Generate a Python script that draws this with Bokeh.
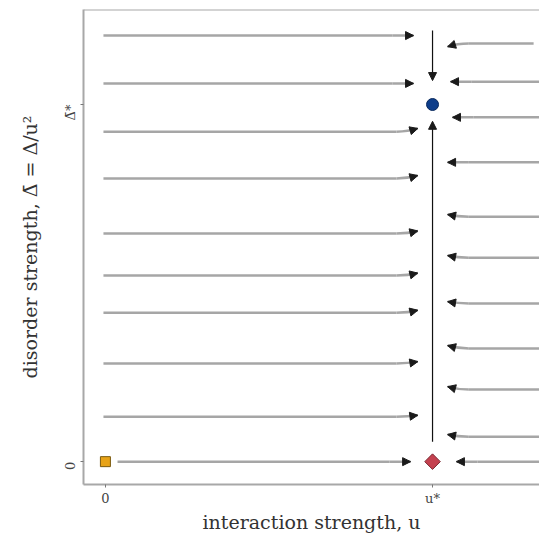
import numpy as np
from bokeh.plotting import figure
from bokeh.models import Range1d, Span, Arrow, NormalHead, FixedTicker
from bokeh.embed import file_html
from bokeh.resources import INLINE

# ---- data (u in units of u*, Delta-bar in units of Delta*) ----
u_star = 1.0
d_star = 1.0

# flow lines coming from the left (u < u*)
left_level = [1.193, 1.059, 0.924, 0.793, 0.639, 0.521, 0.417, 0.275, 0.126]
left_end_level = [1.193, 1.059, 0.933, 0.801, 0.646, 0.528, 0.424, 0.280, 0.130]
left_start = [-0.006] * 9
left_tip = [0.942, 0.942, 0.955, 0.955, 0.955, 0.955, 0.955, 0.955, 0.955]

# flow lines coming from the right (u > u*)
right_level = [1.171, 1.064, 0.964, 0.838, 0.686, 0.571, 0.443, 0.317, 0.202, 0.070]
right_end_level = [1.162, 1.064, 0.964, 0.838, 0.692, 0.577, 0.448, 0.325, 0.210, 0.076]
right_start = [1.309, 1.36, 1.36, 1.36, 1.36, 1.36, 1.36, 1.36, 1.36, 1.36]
right_tip = [1.046, 1.055, 1.061, 1.046, 1.046, 1.046, 1.046, 1.046, 1.046, 1.046]

# flows on the clean axis (Delta-bar = 0)
clean_left = [0.037, 0.933]
clean_right = [1.36, 1.073]

# flows on the critical line u = u*
crit_down = [1.207, 1.067]
crit_up = [0.056, 0.953]

# fixed points
fp_u = [0.0, u_star, u_star]
fp_d = [0.0, 0.0, d_star]

x_ticks = [0.0, u_star]
x_tick_labels = ["0", "u*"]
y_ticks = [0.0, d_star]
y_tick_labels = ["0", "Δ̄*"]

FONT = "DejaVu Serif"
GREY = "#a6a6a6"
HEAD = "#1a1a1a"

p = figure(width=539, height=536, output_backend="svg", toolbar_location=None,
           x_range=Range1d(-0.067, 1.327), y_range=Range1d(-0.064, 1.266),
           min_border_left=83, min_border_right=0, min_border_top=9, min_border_bottom=52)
p.grid.visible = False
p.outline_line_color = None
p.background_fill_color = "white"
p.border_fill_color = "white"

# top frame line
p.add_layout(Span(location=1.266, dimension="width", line_color="#a8a8a8", line_width=2))

bend = 0.065  # length of the curved end piece
ctrl = 0.03


def flow_line(x0, y0, xt, yt, direction):
    xk = xt - direction * bend
    p.segment(x0=[x0], y0=[y0], x1=[xk], y1=[y0], line_color=GREY, line_width=2.5)
    p.quadratic(x0=[xk], y0=[y0], x1=[xt], y1=[yt], cx=[xt - direction * ctrl], cy=[y0],
                line_color=GREY, line_width=2.5)
    p.add_layout(Arrow(end=NormalHead(size=8, fill_color=HEAD, line_color=HEAD, line_width=1),
                       x_start=xt - direction * 0.02, y_start=y0 + (yt - y0) * 0.4,
                       x_end=xt, y_end=yt, line_alpha=0))


for x0, y0, xt, yt in zip(left_start, left_level, left_tip, left_end_level):
    flow_line(x0, y0, xt, yt, 1)
for x0, y0, xt, yt in zip(right_start, right_level, right_tip, right_end_level):
    flow_line(x0, y0, xt, yt, -1)

# clean axis flows
flow_line(clean_left[0], 0.0, clean_left[1], 0.0, 1)
flow_line(clean_right[0], 0.0, clean_right[1], 0.0, -1)

# critical line flows (thin black)
for ys in (crit_down, crit_up):
    p.add_layout(Arrow(end=NormalHead(size=8, fill_color=HEAD, line_color=HEAD, line_width=1),
                       x_start=u_star, y_start=ys[0], x_end=u_star, y_end=ys[1],
                       line_color="#111111", line_width=1.2))

# fixed points
p.scatter([fp_u[0]], [fp_d[0]], marker="square", size=10, fill_color="#e8a317", line_color="#7a5a10", line_width=1)
p.scatter([fp_u[1]], [fp_d[1]], marker="square", size=11, angle=np.pi / 4,
          fill_color="#c4414f", line_color="#7a2a33", line_width=1)
p.scatter([fp_u[2]], [fp_d[2]], marker="circle", size=12, fill_color="#0d3d8a", line_color="#0a2a5e", line_width=1)

# axes
for ax in (p.xaxis[0], p.yaxis[0]):
    ax.axis_line_color = "#a8a8a8"
    ax.axis_line_width = 2
    ax.major_tick_line_color = "#777777"
    ax.major_tick_in = 0
    ax.major_tick_out = 3
    ax.minor_tick_line_color = None
    ax.major_label_text_font = FONT
    ax.major_label_text_font_size = "13px"
    ax.major_label_text_color = "#444444"
    ax.axis_label_text_font = FONT
    ax.axis_label_text_font_size = "19px"
    ax.axis_label_text_font_style = "normal"
    ax.axis_label_text_color = "#333333"

p.xaxis.ticker = FixedTicker(ticks=x_ticks)
p.xaxis.major_label_overrides = {t: l for t, l in zip(x_ticks, x_tick_labels)}
p.yaxis.ticker = FixedTicker(ticks=y_ticks)
p.yaxis.major_label_overrides = {t: l for t, l in zip(y_ticks, y_tick_labels)}
p.yaxis.major_label_orientation = np.pi / 2
p.xaxis.axis_label = "interaction strength, u"
p.yaxis.axis_label = "disorder strength, Δ̄ = Δ/u²"
p.xaxis.major_label_standoff = 3
p.xaxis.axis_label_standoff = 2
p.yaxis.major_label_standoff = 10
p.yaxis.axis_label_standoff = 12

open("out.html", "w").write(file_html(p, INLINE))
